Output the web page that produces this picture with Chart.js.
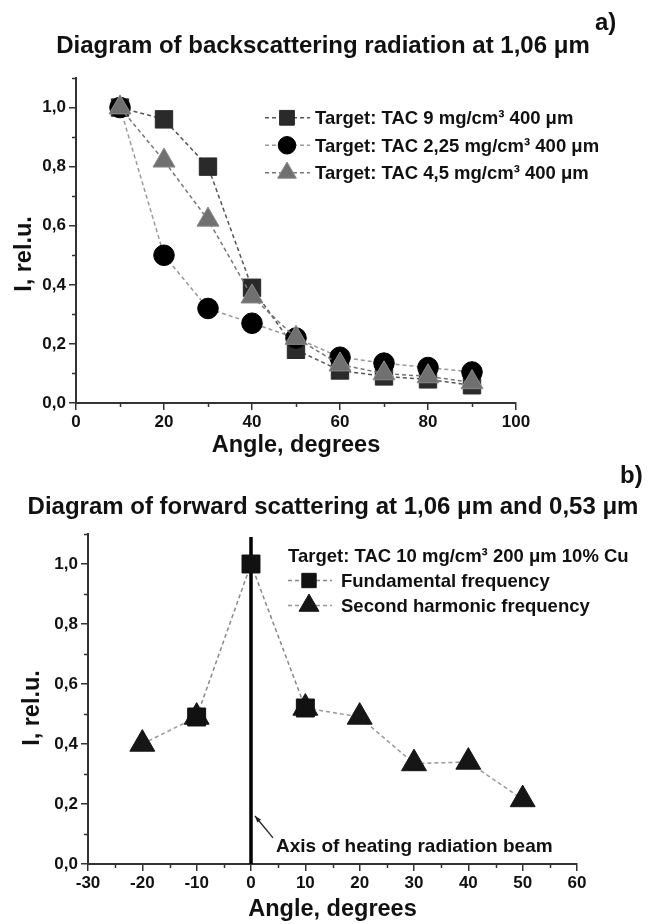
<!DOCTYPE html>
<html><head><meta charset="utf-8">
<script src="https://cdn.jsdelivr.net/npm/chart.js@4"></script>
<style>
html,body{margin:0;padding:0;background:#fff;}
#wrap{position:relative;width:648px;height:924px;overflow:hidden;}
canvas{position:absolute;left:0;}
#ca{top:0}
#cb{top:460px}
</style></head><body>
<div id="wrap"><canvas id="ca" width="648" height="460"></canvas><canvas id="cb" width="648" height="464"></canvas></div>
<script>
// ---------- data: panel a ----------
const titleA = 'Diagram of backscattering radiation at 1,06 \u03bcm';
const panelA = 'a)';
const anglesA = [10, 20, 30, 40, 50, 60, 70, 80, 90];
const tac9   = [1.00, 0.96, 0.80, 0.39, 0.18, 0.11, 0.09, 0.08, 0.06];
const tac225 = [1.00, 0.50, 0.32, 0.27, 0.22, 0.155, 0.135, 0.12, 0.105];
const tac45  = [1.00, 0.82, 0.62, 0.36, 0.22, 0.13, 0.10, 0.09, 0.07];
const namesA = ['Target: TAC 9 mg/cm\u00b3 400 \u03bcm', 'Target: TAC 2,25 mg/cm\u00b3 400 \u03bcm', 'Target: TAC 4,5 mg/cm\u00b3 400 \u03bcm'];
const xTickValuesA = [0, 20, 40, 60, 80, 100];
const xTickLabelsA = ['0', '20', '40', '60', '80', '100'];

// ---------- data: panel b ----------
const titleB = 'Diagram of forward scattering at 1,06 \u03bcm and 0,53 \u03bcm';
const panelB = 'b)';
const anglesFund = [-10, 0, 10];
const fundamental = [0.49, 1.00, 0.52];
const anglesHarm = [-20, -10, 0, 10, 20, 30, 40, 50];
const harmonic   = [0.40, 0.49, null, 0.52, 0.49, 0.335, 0.34, 0.215];
const beamAxisX = [0, 0];
const beamAxisY = [0, 1.09];
const legendHeaderB = 'Target: TAC 10 mg/cm\u00b3 200 \u03bcm 10% Cu';
const namesB = ['Fundamental frequency', 'Second harmonic frequency'];
const annotationB = 'Axis of heating radiation beam';
const xTickValuesB = [-30, -20, -10, 0, 10, 20, 30, 40, 50, 60];
const xTickLabelsB = ['-30', '-20', '-10', '0', '10', '20', '30', '40', '50', '60'];

// ---------- shared ----------
const yTickValues = [0, 0.2, 0.4, 0.6, 0.8, 1.0];
const yTickLabels = ['0,0', '0,2', '0,4', '0,6', '0,8', '1,0'];
const xTitle = 'Angle, degrees';
const yTitle = 'I, rel.u.';

const FF = '"Liberation Sans", Arial, Helvetica, sans-serif';
const INK = '#111';
const AX = '#333';

function pts(xs, ys) { return xs.map((x, i) => ({x: x, y: ys[i]})); }
function tickLabel(values, labels) {
  return function (v) {
    const i = values.findIndex(t => Math.abs(t - v) < 1e-6);
    return i >= 0 ? labels[i] : '';
  };
}
function drawMarker(ctx, style, x, y, r, fill, stroke, bw) {
  ctx.save();
  ctx.fillStyle = fill; ctx.strokeStyle = stroke; ctx.lineWidth = bw;
  ctx.beginPath();
  if (style === 'rect') {
    const s = r * Math.SQRT1_2;
    ctx.rect(x - s, y - s, 2 * s, 2 * s);
  } else if (style === 'triangle') {
    let a = 0;
    ctx.moveTo(x + Math.sin(a) * r, y - Math.cos(a) * r);
    a += 2 * Math.PI / 3;
    ctx.lineTo(x + Math.sin(a) * r, y - Math.cos(a) * r);
    a += 2 * Math.PI / 3;
    ctx.lineTo(x + Math.sin(a) * r, y - Math.cos(a) * r);
    ctx.closePath();
  } else {
    ctx.arc(x, y, r, 0, Math.PI * 2);
  }
  ctx.fill();
  if (bw) ctx.stroke();
  ctx.restore();
}

function minorTicks(chart, xStep, yStep) {
  const ctx = chart.ctx, xs = chart.scales.x, ys = chart.scales.y, area = chart.chartArea;
  ctx.save();
  ctx.strokeStyle = AX; ctx.lineWidth = 1.5;
  ctx.beginPath();
  for (let v = xs.min + xStep / 2; v <= xs.max + 1e-9; v += xStep) {
    const p = Math.round(xs.getPixelForValue(v)) + 0.5;
    ctx.moveTo(p, area.bottom); ctx.lineTo(p, area.bottom + 4);
  }
  for (let v = ys.min + yStep / 2; v <= ys.max + 1e-9; v += yStep) {
    const p = Math.round(ys.getPixelForValue(v)) + 0.5;
    ctx.moveTo(area.left, p); ctx.lineTo(area.left - 4, p);
  }
  ctx.stroke();
  ctx.restore();
}

function drawYTitle(chart, cx, cy) {
  const ctx = chart.ctx;
  ctx.save();
  ctx.translate(cx, cy);
  ctx.rotate(-Math.PI / 2);
  ctx.font = 'bold 23.5px ' + FF;
  ctx.fillStyle = INK;
  ctx.textAlign = 'center';
  ctx.textBaseline = 'middle';
  ctx.fillText(yTitle, 0, 0);
  ctx.restore();
}

function drawLegend(chart, cfg) {
  const ctx = chart.ctx;
  ctx.save();
  ctx.font = 'bold ' + cfg.font + 'px ' + FF;
  ctx.fillStyle = INK;
  ctx.textBaseline = 'alphabetic';
  ctx.textAlign = 'left';
  let base = cfg.y0;
  if (cfg.header) {
    ctx.fillText(cfg.header, cfg.hx, base);
    base += cfg.dy;
  }
  cfg.order.forEach((di, k) => {
    const ds = chart.data.datasets[di];
    const b = base + k * cfg.dy;
    const my = b - 6.5;
    ctx.save();
    ctx.strokeStyle = ds.borderColor; ctx.lineWidth = ds.borderWidth;
    ctx.setLineDash(ds.borderDash || []);
    ctx.beginPath(); ctx.moveTo(cfg.x0, my); ctx.lineTo(cfg.x1, my); ctx.stroke();
    ctx.restore();
    drawMarker(ctx, ds.pointStyle, cfg.xm, my, ds.pointRadius * cfg.scale, ds.pointBackgroundColor, ds.pointBorderColor, ds.pointBorderWidth);
    ctx.fillStyle = INK;
    ctx.fillText(cfg.labels[k], cfg.xt, b);
  });
  ctx.restore();
}

function drawTexts(chart, items) {
  const ctx = chart.ctx;
  ctx.save();
  ctx.fillStyle = INK;
  ctx.textBaseline = 'alphabetic';
  items.forEach(t => {
    ctx.font = 'bold ' + t.size + 'px ' + FF;
    ctx.textAlign = t.align || 'left';
    ctx.fillText(t.text, t.x, t.y);
  });
  ctx.restore();
}

function scaleOpts(kind, min, max, step, tv, tl, fitSize) {
  return {
    type: 'linear', min: min, max: max,
    ticks: {stepSize: step, autoSkip: false, maxRotation: 0, padding: kind === 'x' ? 2 : 3, color: INK,
            font: {family: FF, size: 17, weight: 'bold'}, callback: tickLabel(tv, tl)},
    grid: {drawOnChartArea: false, drawTicks: true, tickLength: 7, lineWidth: 1.5,
           color: c => (c.tick && tv.findIndex(t => Math.abs(t - c.tick.value) < 1e-6) < 0) ? 'rgba(0,0,0,0)' : AX},
    border: {color: AX, width: 2},
    title: {display: kind === 'x', text: kind === 'x' ? xTitle : yTitle, color: INK, padding: 0,
            font: {family: FF, size: 23.5, weight: 'bold'}},
    afterFit: s => { if (kind === 'x') s.height = fitSize; else s.width = fitSize; }
  };
}

// ---------- chart a ----------
new Chart(document.getElementById('ca'), {
  type: 'line',
  data: {
    datasets: [
      {label: namesA[0], data: pts(anglesA, tac9), order: 3, borderColor: '#555', borderWidth: 1.5, borderDash: [4, 3],
       pointStyle: 'rect', pointRadius: 12.3, pointBackgroundColor: '#2a2a2a', pointBorderColor: '#2a2a2a', pointBorderWidth: 1},
      {label: namesA[1], data: pts(anglesA, tac225), order: 2, borderColor: '#999', borderWidth: 1.5, borderDash: [4, 3],
       pointStyle: 'circle', pointRadius: 10.3, pointBackgroundColor: '#000', pointBorderColor: '#000', pointBorderWidth: 1},
      {label: namesA[2], data: pts(anglesA, tac45), order: 1, borderColor: '#777', borderWidth: 1.5, borderDash: [4, 3],
       pointStyle: 'triangle', pointRadius: 12.7, pointBackgroundColor: '#707070', pointBorderColor: '#8a8a8a', pointBorderWidth: 1}
    ]
  },
  options: {
    responsive: false, animation: false, devicePixelRatio: 1,
    clip: false,
    layout: {padding: {top: 78, right: 132, bottom: 0, left: 11}},
    plugins: {legend: {display: false}, tooltip: {enabled: false}, title: {display: false}},
    elements: {line: {tension: 0, fill: false}},
    scales: {
      x: scaleOpts('x', 0, 100, 20, xTickValuesA, xTickLabelsA, 57),
      y: scaleOpts('y', 0, 1.1, 0.2, yTickValues, yTickLabels, 65)
    }
  },
  plugins: [{
    id: 'decorA',
    afterDraw(chart) {
      minorTicks(chart, 20, 0.2);
      drawYTitle(chart, 25, 254);
      drawTexts(chart, [
        {text: titleA, x: 323, y: 53, size: 24, align: 'center'},
        {text: panelA, x: 595, y: 30, size: 24}
      ]);
      drawLegend(chart, {font: 18.5, y0: 124.3, dy: 27.5, x0: 265, x1: 310, xm: 287, xt: 315, scale: 0.85,
                         order: [0, 1, 2], labels: namesA});
    }
  }]
});

// ---------- chart b ----------
new Chart(document.getElementById('cb'), {
  type: 'line',
  data: {
    datasets: [
      {label: namesB[0], data: pts(anglesFund, fundamental), order: 1, borderColor: '#888', borderWidth: 1.5, borderDash: [4, 3],
       pointStyle: 'rect', pointRadius: 12.7, pointBackgroundColor: '#111', pointBorderColor: '#111', pointBorderWidth: 1},
      {label: namesB[1], data: pts(anglesHarm, harmonic), order: 2, borderColor: '#999', borderWidth: 1.5, borderDash: [4, 3],
       spanGaps: false,
       pointStyle: 'triangle', pointRadius: 14.4, pointBackgroundColor: '#161616', pointBorderColor: '#161616', pointBorderWidth: 1},
      {label: 'beam axis', data: pts(beamAxisX, beamAxisY), order: 3, borderColor: '#000', borderWidth: 3.5,
       pointRadius: 0}
    ]
  },
  options: {
    responsive: false, animation: false, devicePixelRatio: 1,
    clip: false,
    layout: {padding: {top: 74, right: 71, bottom: 0, left: 19}},
    plugins: {legend: {display: false}, tooltip: {enabled: false}, title: {display: false}},
    elements: {line: {tension: 0, fill: false}},
    scales: {
      x: scaleOpts('x', -30, 60, 10, xTickValuesB, xTickLabelsB, 60),
      y: scaleOpts('y', 0, 1.1, 0.2, yTickValues, yTickLabels, 69)
    }
  },
  plugins: [{
    id: 'decorB',
    afterDraw(chart) {
      minorTicks(chart, 10, 0.2);
      drawYTitle(chart, 33, 248);
      const xs = chart.scales.x, ys = chart.scales.y, ctx = chart.ctx;
      // arrow pointing at the beam axis
      const x0 = xs.getPixelForValue(0);
      const tipX = x0 + 4, tipY = ys.getPixelForValue(0.16);
      const tailX = x0 + 22, tailY = ys.getPixelForValue(0.087);
      ctx.save();
      ctx.strokeStyle = '#222'; ctx.fillStyle = '#222'; ctx.lineWidth = 1.3;
      ctx.beginPath(); ctx.moveTo(tailX, tailY); ctx.lineTo(tipX, tipY); ctx.stroke();
      const ang = Math.atan2(tipY - tailY, tipX - tailX);
      ctx.beginPath();
      ctx.moveTo(tipX, tipY);
      ctx.lineTo(tipX - 7 * Math.cos(ang - 0.35), tipY - 7 * Math.sin(ang - 0.35));
      ctx.lineTo(tipX - 7 * Math.cos(ang + 0.35), tipY - 7 * Math.sin(ang + 0.35));
      ctx.closePath(); ctx.fill();
      ctx.restore();
      drawTexts(chart, [
        {text: titleB, x: 333, y: 54, size: 24, align: 'center'},
        {text: panelB, x: 620, y: 23, size: 24},
        {text: annotationB, x: x0 + 25, y: ys.getPixelForValue(0.041), size: 19}
      ]);
      drawLegend(chart, {font: 18.5, header: legendHeaderB, hx: 288, y0: 102, dy: 25, x0: 288, x1: 332, xm: 309, xt: 341, scale: 0.8,
                         order: [0, 1], labels: namesB});
    }
  }]
});
</script>
</body></html>
